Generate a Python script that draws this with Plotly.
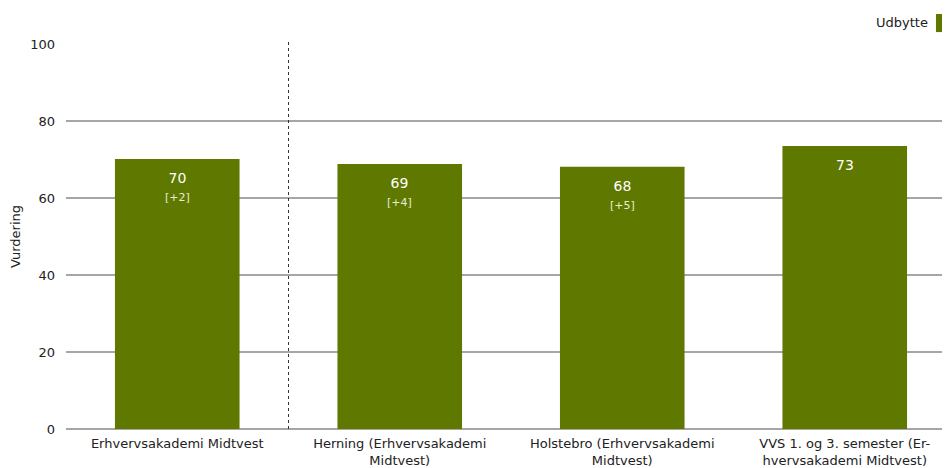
import plotly.graph_objects as go

categories = [
    "Erhvervsakademi Midtvest",
    "Herning (Erhvervsakademi<br>Midtvest)",
    "Holstebro (Erhvervsakademi<br>Midtvest)",
    "VVS 1. og 3. semester (Er-<br>hvervsakademi Midtvest)",
]
values = [70.1, 68.8, 68.1, 73.5]
value_labels = ["70", "69", "68", "73"]
change_labels = ["[+2]", "[+4]", "[+5]", ""]
series_name = "Udbytte"
y_ticks = [0, 20, 40, 60, 80, 100]

BAR = "#5f7800"
FONT = "DejaVu Sans"

fig = go.Figure()
fig.add_trace(go.Bar(
    x=list(range(len(categories))), y=values, name=series_name,
    marker=dict(color=BAR, line=dict(width=0)), width=0.56,
    showlegend=False, hoverinfo="skip",
))

for i, (v, vl, cl) in enumerate(zip(values, value_labels, change_labels)):
    txt = vl
    if cl:
        txt += "<br><span style='font-size:11px;color:#e8eccf'>" + cl + "</span>"
    fig.add_annotation(x=i, y=v, xref="x", yref="y", text=txt, showarrow=False,
                       yanchor="top", yshift=-9, align="center",
                       font=dict(family=FONT, size=14, color="white"))

# separator between overall and sub-units
fig.add_vline(x=0.5, line=dict(color="#333333", width=1, dash="dot"), y0=0, y1=1.008)

# legend (text then square, as in the reference)
fig.add_annotation(x=0.969, y=1.057, xref="paper", yref="paper", text=series_name,
                   showarrow=False, xanchor="right", yanchor="middle",
                   font=dict(family=FONT, size=13, color="#222222"))
fig.add_shape(type="rect", xref="paper", yref="paper", x0=0.9753, x1=1.0,
              y0=1.031, y1=1.078, fillcolor=BAR, line=dict(width=0), layer="above")

fig.update_layout(
    width=950, height=468,
    margin=dict(l=58, r=0, t=36, b=47, autoexpand=False),
    plot_bgcolor="white", paper_bgcolor="white",
    font=dict(family=FONT, size=13, color="#222222"),
)
fig.update_xaxes(
    tickmode="array", tickvals=list(range(len(categories))), ticktext=categories,
    range=[-0.5, 3.509], showgrid=False, zeroline=False, showline=False,
    ticks="", tickfont=dict(family=FONT, size=13, color="#222222"), automargin=False,
    ticklabelstandoff=5,
)
fig.update_yaxes(
    range=[0, 100], tickvals=y_ticks, showgrid=True, gridcolor="#a6a6a6", gridwidth=1.5,
    zeroline=True, zerolinecolor="#a6a6a6", zerolinewidth=1.5,
    title=dict(text="Vurdering", font=dict(family=FONT, size=13, color="#222222"), standoff=14),
    tickfont=dict(family=FONT, size=13, color="#222222"), ticks="", ticklen=0,
    automargin=False, ticklabelstandoff=10,
)

fig.write_html("out.html")
